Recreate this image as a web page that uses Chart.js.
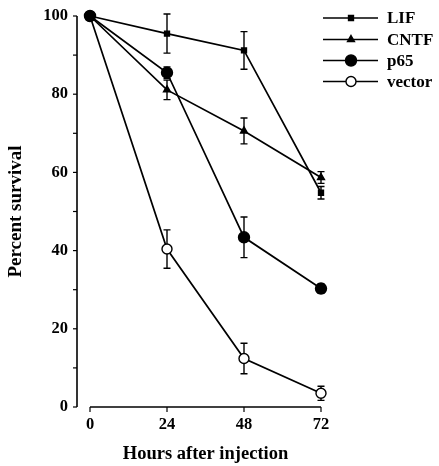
<!DOCTYPE html>
<html>
<head>
<meta charset="utf-8">
<script src="https://cdn.jsdelivr.net/npm/chart.js@4"></script>
<style>
html,body{margin:0;padding:0;background:#fff;}
#wrap{width:439px;height:466px;}
</style>
</head>
<body>
<div id="wrap"><canvas id="c" width="439" height="466"></canvas></div>
<script>
const hours = [0, 24, 48, 72];
const xTicks = [0, 24, 48, 72];
const yTicks = [0, 20, 40, 60, 80, 100];
const yMinorTicks = [10, 30, 50, 70, 90];
const seriesNames = ['LIF', 'CNTF', 'p65', 'vector'];
const lifValues = [100, 95.5, 91.2, 54.8];
const lifErrors = [0, 5.0, 4.8, 1.6];
const cntfValues = [100, 81.1, 70.6, 58.7];
const cntfErrors = [0, 2.5, 3.3, 1.5];
const p65Values = [100, 85.5, 43.4, 30.3];
const p65Errors = [0, 1.5, 5.2, 1.2];
const vectorValues = [100, 40.4, 12.4, 3.5];
const vectorErrors = [0, 4.9, 3.9, 1.8];

const FONT = "'Liberation Serif', 'Times New Roman', serif";
Chart.defaults.font.family = FONT;
Chart.defaults.font.weight = 'bold';
Chart.defaults.color = '#000';

const styles = [
  {pointStyle: 'rect', radius: 3.5, fill: '#000'},
  {pointStyle: 'triangle', radius: 4, fill: '#000'},
  {pointStyle: 'circle', radius: 5.5, fill: '#000'},
  {pointStyle: 'circle', radius: 5, fill: '#fff'}
];
const allValues = [lifValues, cntfValues, p65Values, vectorValues];
const allErrors = [lifErrors, cntfErrors, p65Errors, vectorErrors];
const orders = [1, 1, 0, 2];

const datasets = seriesNames.map((name, i) => ({
  label: name,
  data: hours.map((h, j) => ({x: h, y: allValues[i][j]})),
  errors: allErrors[i],
  borderColor: '#000',
  borderWidth: 1.7,
  backgroundColor: styles[i].fill,
  pointBackgroundColor: styles[i].fill,
  pointBorderColor: '#000',
  pointBorderWidth: 1.4,
  pointStyle: styles[i].pointStyle,
  pointRadius: styles[i].radius,
  tension: 0,
  fill: false,
  clip: false,
  order: orders[i]
}));

const decor = {
  id: 'decor',
  beforeDatasetsDraw(chart) {
    const ctx = chart.ctx;
    const xs = chart.scales.x, ys = chart.scales.y;
    const ca = chart.chartArea;
    ctx.save();
    ctx.strokeStyle = '#000';
    ctx.lineWidth = 1.6;
    const yx = ca.left - 13;
    ctx.beginPath();
    ctx.moveTo(yx, ys.getPixelForValue(100));
    ctx.lineTo(yx, ys.getPixelForValue(0));
    ctx.stroke();
    ctx.lineWidth = 1.2;
    [...yTicks, ...yMinorTicks].forEach(v => {
      const py = ys.getPixelForValue(v);
      ctx.beginPath();
      ctx.moveTo(yx - 4, py);
      ctx.lineTo(yx, py);
      ctx.stroke();
    });
    ctx.lineWidth = 1.6;
    const by = ys.getPixelForValue(0);
    ctx.beginPath();
    ctx.moveTo(xs.getPixelForValue(0), by);
    ctx.lineTo(xs.getPixelForValue(72), by);
    ctx.stroke();
    ctx.lineWidth = 1.2;
    xTicks.forEach(v => {
      const px = xs.getPixelForValue(v);
      ctx.beginPath();
      ctx.moveTo(px, by);
      ctx.lineTo(px, by + 5);
      ctx.stroke();
    });
    ctx.lineWidth = 1.4;
    chart.data.datasets.forEach(ds => {
      ds.data.forEach((p, j) => {
        const e = ds.errors[j];
        if (!e) return;
        const px = xs.getPixelForValue(p.x);
        const top = ys.getPixelForValue(p.y + e);
        const bot = ys.getPixelForValue(p.y - e);
        ctx.beginPath();
        ctx.moveTo(px, top); ctx.lineTo(px, bot);
        ctx.moveTo(px - 3.5, top); ctx.lineTo(px + 3.5, top);
        ctx.moveTo(px - 3.5, bot); ctx.lineTo(px + 3.5, bot);
        ctx.stroke();
      });
    });
    ctx.restore();
  },
  afterDraw(chart) {
    const ctx = chart.ctx;
    ctx.save();
    const x0 = 323, x1 = 378, mx = 351, tx = 387;
    const rowY = [18, 39.5, 60.5, 81.5];
    chart.data.datasets.forEach((ds, i) => {
      const y = rowY[i];
      ctx.strokeStyle = '#000';
      ctx.lineWidth = 1.6;
      ctx.beginPath();
      ctx.moveTo(x0, y); ctx.lineTo(x1, y);
      ctx.stroke();
      ctx.fillStyle = ds.pointBackgroundColor;
      ctx.lineWidth = 1.4;
      Chart.helpers.drawPoint(ctx, {pointStyle: ds.pointStyle, radius: ds.pointRadius, rotation: 0, borderWidth: 1.4}, mx, y);
      ctx.fillStyle = '#000';
      ctx.font = "bold 17px " + FONT;
      ctx.textBaseline = 'middle';
      ctx.textAlign = 'left';
      ctx.fillText(ds.label, tx, y + 1);
    });
    ctx.restore();
  }
};

new Chart(document.getElementById('c'), {
  type: 'line',
  data: {datasets},
  options: {
    responsive: false,
    animation: false,
    devicePixelRatio: 1,
    layout: {padding: {top: 16, right: 118, left: 0, bottom: 0}},
    plugins: {legend: {display: false}, tooltip: {enabled: false}},
    scales: {
      x: {
        type: 'linear', min: 0, max: 72,
        afterBuildTicks: s => { s.ticks = xTicks.map(v => ({value: v})); },
        afterFit: s => { s.height = 59; },
        grid: {display: false, drawTicks: false},
        border: {display: false},
        ticks: {padding: 8, font: {size: 16.5, weight: 'bold'}, color: '#000'},
        title: {display: true, text: 'Hours after injection', font: {size: 18.5, weight: 'bold'}, color: '#000', padding: {top: 0, bottom: 1}}
      },
      y: {
        min: 0, max: 100,
        afterBuildTicks: s => { s.ticks = yTicks.map(v => ({value: v})); },
        afterFit: s => { s.width = 90; },
        grid: {display: true, drawOnChartArea: false, drawTicks: true, tickLength: 17, color: 'rgba(0,0,0,0)'},
        border: {display: false},
        ticks: {padding: 5, font: {size: 16.5, weight: 'bold'}, color: '#000'},
        title: {display: true, text: 'Percent survival', font: {size: 19, weight: 'bold'}, color: '#000', padding: {top: 5, bottom: 0}}
      }
    }
  },
  plugins: [decor]
});
</script>
</body>
</html>
